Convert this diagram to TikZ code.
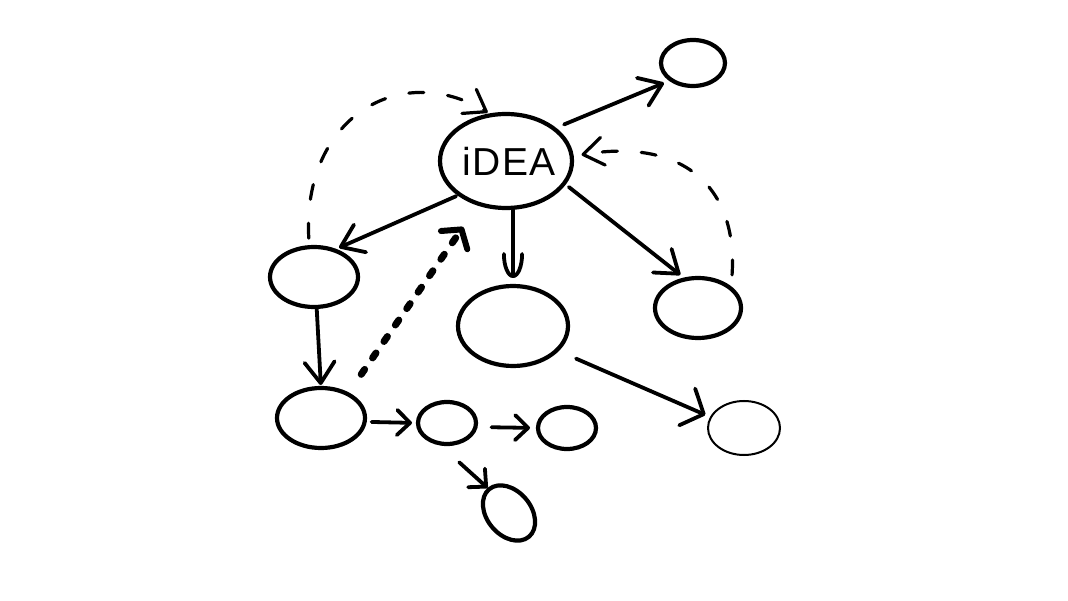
\documentclass[tikz,border=0pt]{standalone}
\usepackage{fontspec}
\newfontfamily\ideafont[LetterSpace=4]{Liberation Sans}
\usetikzlibrary{shapes.geometric,arrows.meta}
\begin{document}
\begin{tikzpicture}[x=1pt,y=-1pt,
  bub/.style={draw, ellipse, line width=4.2pt, inner sep=0pt, outer sep=0pt},
  arr/.style={line width=3.8pt, line cap=round, line join=round,
    -{Straight Barb[length=21pt,width=30pt,round]}},
  sarr/.style={line width=3.8pt, line cap=round, line join=round,
    -{Straight Barb[length=13pt,width=25pt,round]}},
  uarr/.style={line width=3.8pt, line cap=round, line join=round,
    -{Arc Barb[length=24pt,width=22pt,round]}},
  warr/.style={line width=3.8pt, line cap=round, line join=round,
    -{Straight Barb[length=18pt,width=40pt,round]}},
  darr/.style={line width=3.2pt, line cap=round, line join=round,
    dash pattern=on 15pt off 24pt,
    -{Straight Barb[length=20pt,width=28pt,round]}},
  dotarr/.style={line width=7pt, line cap=round, line join=round,
    dash pattern=on 6pt off 14pt,
    -{Straight Barb[length=13pt,width=32pt,round,line width=6pt]}},
]
\fill[white] (0,0) rectangle (1068,601);
\path[use as bounding box] (0,0) rectangle (1068,601);

% bubbles
\node[bub, minimum width=132pt, minimum height=94pt] (idea) at (506,161)
  {\makebox[0pt]{\hspace{6pt}\ideafont\fontsize{39}{39}\selectfont iDEA}};
\node[bub, minimum width=64pt, minimum height=46pt] (tr) at (693,63) {};
\node[bub, minimum width=88pt, minimum height=60pt] (L) at (314,277) {};
\node[bub, minimum width=110pt, minimum height=80pt] (M) at (513,326) {};
\node[bub, minimum width=86pt, minimum height=60pt] (R) at (698,308) {};
\node[bub, minimum width=88pt, minimum height=60pt] (BL) at (321,418) {};
\node[bub, minimum width=58pt, minimum height=42pt] (s1) at (447,423) {};
\node[bub, minimum width=58pt, minimum height=42pt] (s2) at (567,428) {};
\node[bub, minimum width=62pt, minimum height=44pt, rotate=-50] (bt) at (509,513) {};
\node[bub, line width=2pt, minimum width=72pt, minimum height=54pt] (thin) at (744,428) {};

% connectors
\draw[arr, shorten <=11pt, shorten >=8pt] (idea.34) -- (tr.218);
\draw[arr, shorten <=4pt, shorten >=6pt] (idea.216) -- (L.54);
\draw[uarr, shorten <=2pt, shorten >=8pt] (idea.south -| M.north) -- (M.north);
\draw[arr, shorten <=6pt, shorten >=7pt] (idea.-21) -- (R.113);
\draw[darr, shorten <=9pt, shorten >=5pt] (L.99) .. controls (302,118) and (400,60) .. (idea.107);
\draw[darr, shorten <=14pt, shorten >=10pt] (R.30) .. controls (738,186) and (682,138) .. (idea.4);
\draw[dotarr, shorten <=24pt, shorten >=28pt] (BL.42) -- (idea.238);
\draw[arr, shorten <=1pt, shorten >=3pt] (L.-85) -- (BL.north);
\draw[sarr, shorten <=7pt, shorten >=6pt] (BL.-5) -- (s1.west);
\draw[sarr, shorten <=16pt, shorten >=8pt] (s1.-8) -- (s2.west);
\draw[sarr, shorten <=29pt, shorten >=2pt] (s1.-115) -- (bt.west);
\draw[warr, shorten <=21pt, shorten >=6pt] (M.-29) -- (thin.162);
\end{tikzpicture}
\end{document}
